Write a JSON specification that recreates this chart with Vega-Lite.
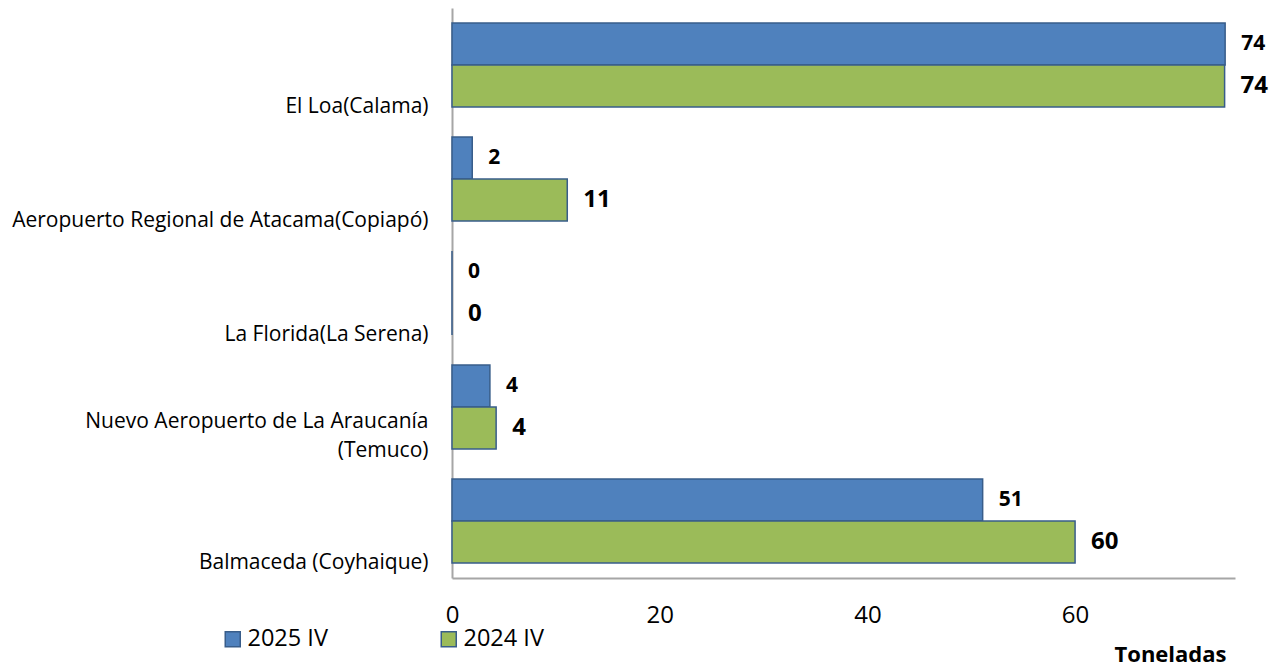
{
  "$schema": "https://vega.github.io/schema/vega-lite/v6.json",
  "autosize": "none",
  "width": 783,
  "height": 570,
  "padding": {"left": 452, "top": 8, "right": 43, "bottom": 90},
  "background": "white",
  "config": {"view": {"stroke": null}, "font": "Open Sans"},
  "data": {
    "values": [
      {"airport": "El Loa(Calama)", "series": "2025 IV", "value": 74.45},
      {"airport": "El Loa(Calama)", "series": "2024 IV", "value": 74.4},
      {"airport": "Aeropuerto Regional de Atacama(Copiapó)", "series": "2025 IV", "value": 1.95},
      {"airport": "Aeropuerto Regional de Atacama(Copiapó)", "series": "2024 IV", "value": 11.1},
      {"airport": "La Florida(La Serena)", "series": "2025 IV", "value": 0},
      {"airport": "La Florida(La Serena)", "series": "2024 IV", "value": 0},
      {"airport": "Nuevo Aeropuerto de La Araucanía (Temuco)", "series": "2025 IV", "value": 3.65},
      {"airport": "Nuevo Aeropuerto de La Araucanía (Temuco)", "series": "2024 IV", "value": 4.25},
      {"airport": "Balmaceda (Coyhaique)", "series": "2025 IV", "value": 51.1},
      {"airport": "Balmaceda (Coyhaique)", "series": "2024 IV", "value": 60}
    ]
  },
  "encoding": {
    "y": {
      "field": "airport",
      "type": "nominal",
      "sort": ["El Loa(Calama)", "Aeropuerto Regional de Atacama(Copiapó)", "La Florida(La Serena)", "Nuevo Aeropuerto de La Araucanía (Temuco)", "Balmaceda (Coyhaique)"],
      "scale": {"paddingInner": 0.263, "paddingOuter": 0.1316},
      "axis": {
        "title": null,
        "domain": true,
        "domainColor": "#a6a6a6",
        "domainWidth": 2,
        "ticks": false,
        "tickSize": 0,
        "labelPadding": 24,
        "labelFont": "Open Sans",
        "labelFontSize": 21,
        "labelColor": "#000000",
        "labelBaseline": "bottom",
        "labelOffset": {"condition": {"test": "datum.value == 'Nuevo Aeropuerto de La Araucanía (Temuco)'", "value": 25}, "value": 52},
        "labelLineHeight": 29,
        "labelLimit": 0,
        "labelExpr": "datum.value == 'Nuevo Aeropuerto de La Araucanía (Temuco)' ? ['Nuevo Aeropuerto de La Araucanía', '(Temuco)'] : datum.value"
      }
    },
    "yOffset": {
      "field": "series",
      "type": "nominal",
      "sort": ["2025 IV", "2024 IV"],
      "scale": {"paddingInner": 0, "paddingOuter": 0}
    }
  },
  "layer": [
    {
      "mark": {"type": "bar", "stroke": "#385d8a", "strokeWidth": 1.5},
      "encoding": {
        "x": {
          "field": "value",
          "type": "quantitative",
          "scale": {"domain": [0, 75.4], "nice": false},
          "axis": {
            "title": "Toneladas",
            "values": [0, 20, 40, 60],
            "grid": false,
            "ticks": false,
            "tickSize": 0,
            "domainColor": "#a6a6a6",
            "domainWidth": 2,
            "labelFont": "Open Sans",
            "labelFontSize": 24,
            "labelColor": "#000000",
            "labelBaseline": "top",
            "labelPadding": 25,
            "labelFlush": false,
            "labelOverlap": false,
            "titleFont": "Open Sans",
            "titleFontSize": 22,
            "titleFontWeight": "bold",
            "titleColor": "#000000",
            "titleX": 774,
            "titleY": 83,
            "titleAlign": "right",
            "titleAnchor": "end",
            "titleBaseline": "alphabetic"
          }
        },
        "color": {
          "field": "series",
          "type": "nominal",
          "scale": {"domain": ["2025 IV", "2024 IV"], "range": ["#4f81bd", "#9bbb59"]},
          "legend": {
            "orient": "none",
            "legendX": -231,
            "legendY": 619,
            "direction": "horizontal",
            "title": null,
            "symbolType": "square",
            "symbolSize": 225,
            "symbolStrokeColor": "#385d8a",
            "symbolStrokeWidth": 1.5,
            "symbolOpacity": 1,
            "labelFont": "Open Sans",
            "labelFontSize": 23.5,
            "labelColor": "#000000",
            "labelOffset": 3,
            "columnPadding": 109,
            "padding": 0
          }
        }
      }
    },
    {
      "mark": {"type": "text", "align": "left", "baseline": "middle", "dx": 16, "fontWeight": "bold", "font": "Open Sans", "color": "#000000"},
      "encoding": {
        "x": {"field": "value", "type": "quantitative"},
        "text": {"field": "value", "type": "quantitative", "format": ".0f"},
        "size": {"condition": {"test": "datum.series === '2025 IV'", "value": 21}, "value": 24}
      }
    }
  ]
}
